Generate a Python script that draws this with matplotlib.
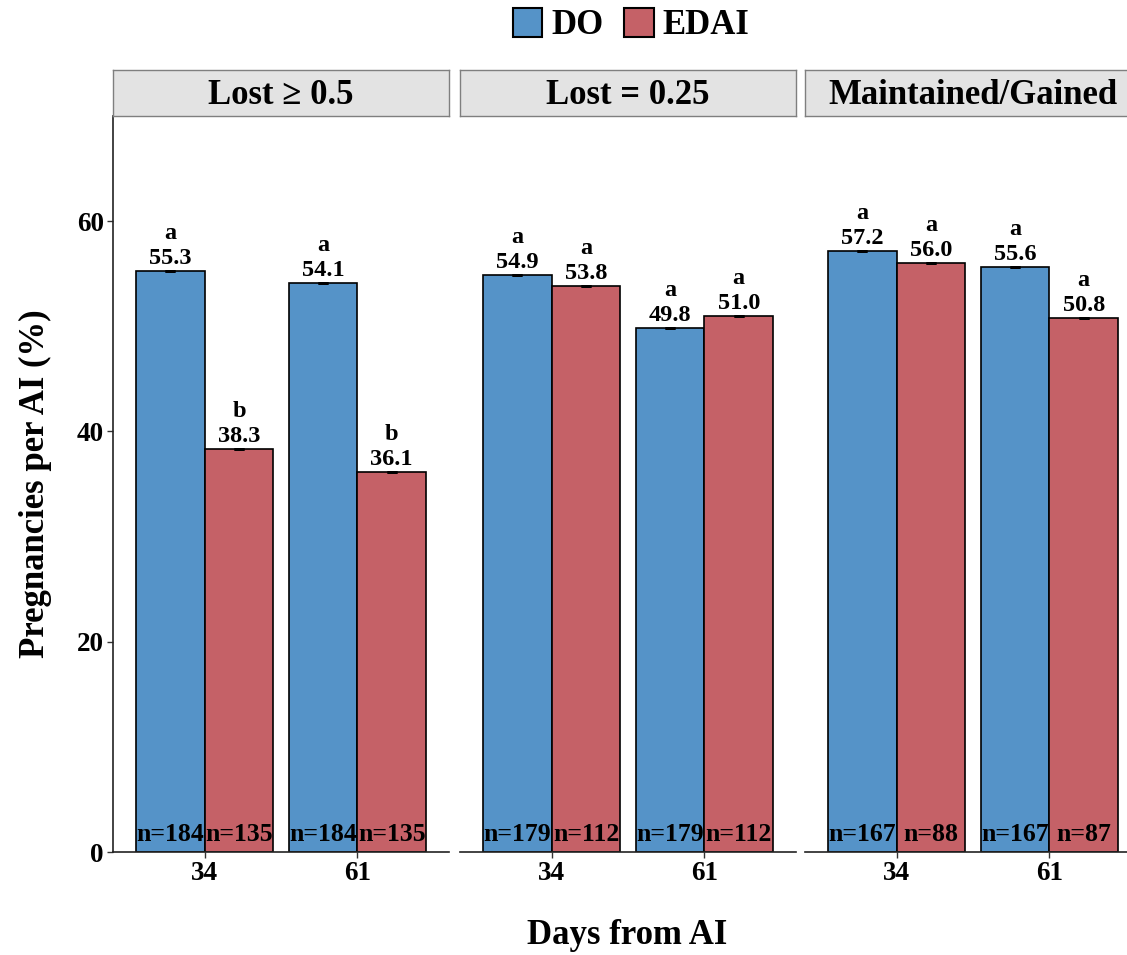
import numpy as np
import matplotlib
matplotlib.use('Agg')
import matplotlib.pyplot as plt
from matplotlib.patches import Patch

plt.rcParams['font.family'] = ['Liberation Serif', 'DejaVu Serif']
plt.rcParams['font.weight'] = 'bold'

# Data
panels = ['Lost \u2265 0.5', 'Lost = 0.25', 'Maintained/Gained']
days = ['34', '61']
do_vals = [[55.3, 54.1], [54.9, 49.8], [57.2, 55.6]]
edai_vals = [[38.3, 36.1], [53.8, 51.0], [56.0, 50.8]]
do_letters = [['a', 'a'], ['a', 'a'], ['a', 'a']]
edai_letters = [['b', 'b'], ['a', 'a'], ['a', 'a']]
do_n = [[184, 184], [179, 179], [167, 167]]
edai_n = [[135, 135], [112, 112], [88, 87]]

blue = '#5593C8'
red = '#C56167'

# Layout in pixels
W, H = 1127, 955
lefts = [113, 460, 805]
pw = 336
ybot, ytop, stop = 852, 116, 70

fig = plt.figure(figsize=(W / 100, H / 100), dpi=100)

x = np.arange(len(days))
bw = 0.45

for i, name in enumerate(panels):
    ax = fig.add_axes([lefts[i] / W, 1 - ybot / H, pw / W, (ybot - ytop) / H])
    groups = [(do_vals[i], do_letters[i], do_n[i], blue, -bw / 2),
              (edai_vals[i], edai_letters[i], edai_n[i], red, bw / 2)]
    for vals, lets, ns, col, off in groups:
        xs = x + off
        ax.bar(xs, vals, width=bw, color=col, edgecolor='black', linewidth=1.2)
        ax.errorbar(xs, vals, yerr=np.zeros(len(vals)), fmt='none', ecolor='black',
                    elinewidth=1, capsize=3.5, capthick=2)
        for xx, v, l, n in zip(xs, vals, lets, ns):
            ax.annotate(f'{v:.1f}', (xx, v), xytext=(0, 5), textcoords='offset points',
                        ha='center', va='baseline', fontsize=17.5)
            ax.annotate(l, (xx, v), xytext=(0, 23), textcoords='offset points',
                        ha='center', va='baseline', fontsize=17.5)
            ax.annotate(f'n={n}', (xx, 0), xytext=(0, 8), textcoords='offset points',
                        ha='center', va='baseline', fontsize=18.5)

    ax.set_xlim(-0.6, 1.6)
    ax.set_ylim(0, 70)
    ax.set_xticks(x)
    ax.set_xticklabels(days)
    ax.set_yticks([0, 20, 40, 60])
    ax.tick_params(axis='both', labelsize=19.5, length=4.5, width=1, color='#333333', pad=2)
    for s in ['top', 'right']:
        ax.spines[s].set_visible(False)
    ax.spines['bottom'].set_linewidth(1.2)
    ax.spines['bottom'].set_color('#222222')
    if i == 0:
        ax.spines['left'].set_linewidth(1.2)
        ax.spines['left'].set_color('#222222')
    else:
        ax.spines['left'].set_visible(False)
        ax.tick_params(axis='y', left=False, labelleft=False)

    # facet strip
    sax = fig.add_axes([lefts[i] / W, 1 - ytop / H, pw / W, (ytop - stop) / H])
    sax.set_facecolor('#E3E3E3')
    sax.set_xticks([])
    sax.set_yticks([])
    for s in sax.spines.values():
        s.set_color('#7F7F7F')
        s.set_linewidth(1)
    sax.text(0.5, 0.45, name, ha='center', va='center', fontsize=25,
             transform=sax.transAxes)

handles = [Patch(facecolor=blue, edgecolor='black', linewidth=1.5),
           Patch(facecolor=red, edgecolor='black', linewidth=1.5)]
fig.legend(handles, ['DO', 'EDAI'], loc='center', bbox_to_anchor=(631 / W, 1 - 25 / H),
           ncol=2, frameon=False, fontsize=25, handlelength=0.85, handleheight=0.95,
           handletextpad=0.25, columnspacing=0.6, borderpad=0)

fig.text(35 / W, 1 - 484 / H, 'Pregnancies per AI (%)', rotation=90,
         ha='center', va='center', fontsize=25)
fig.text(627 / W, 1 - 935 / H, 'Days from AI', ha='center', va='center', fontsize=25)

fig.savefig('out.png', dpi=100)
